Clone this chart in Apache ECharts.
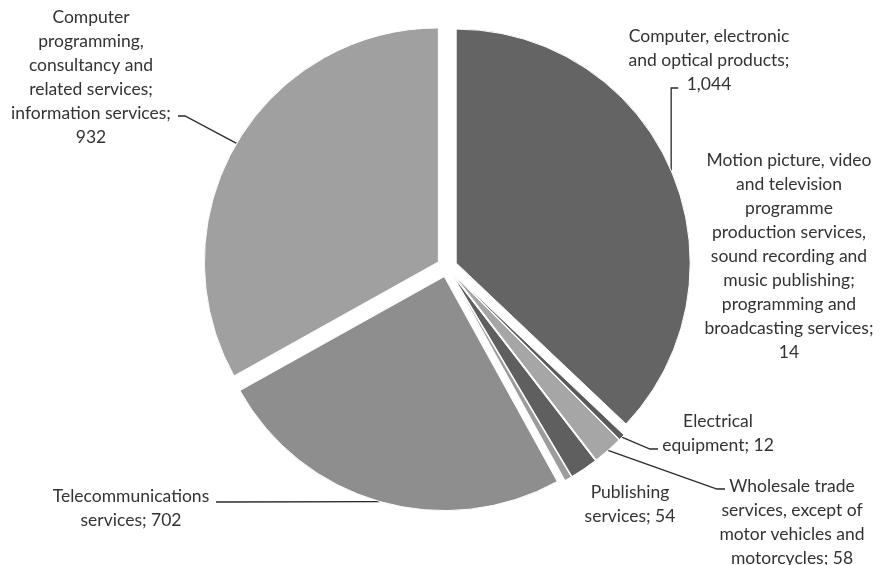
<!DOCTYPE html>
<html>
<head>
<meta charset="utf-8">
<script src="https://cdn.jsdelivr.net/npm/echarts@6/dist/echarts.min.js"></script>
<style>
  html, body { margin: 0; padding: 0; background: #fff; }
  #chart { width: 886px; height: 565px; }
</style>
</head>
<body>
<div id="chart"></div>
<script>
// Categories, written as the lines of their wrapped labels (clockwise from 12 o'clock)
const categoryLines = [
  ['Computer, electronic', 'and optical products'],
  ['Electrical', 'equipment'],
  ['Wholesale trade', 'services, except of', 'motor vehicles and', 'motorcycles'],
  ['Publishing', 'services'],
  ['Motion picture, video', 'and television', 'programme', 'production services,', 'sound recording and', 'music publishing;', 'programming and', 'broadcasting services'],
  ['Telecommunications', 'services'],
  ['Computer', 'programming,', 'consultancy and', 'related services;', 'information services']
];
const values = [1044, 12, 58, 54, 14, 702, 932];
// true when the value sits on its own line below the name
const valueOnOwnLine = [true, false, false, false, true, false, true];

const sliceColors = ['#646464', '#5a5a5a', '#a6a6a6', '#5f5f5f', '#9c9c9c', '#8e8e8e', '#a0a0a0'];

// Pie geometry
const CX = 447, CY = 267, R = 234, EXPLODE = 10;
const FONT = '17.5px Lato';
const LINE_H = 24;

// Label block centres and leader-line elbows / ends
const labelPlacement = [
  { x: 709, y: 60,  elbow: 'vertical', endY: 88, tick: 7 },
  { x: 718, y: 433, elbow: [650, 449], end: [658, 449] },
  { x: 792, y: 522, elbow: [717, 489], end: [725, 489] },
  { x: 630, y: 504 },
  { x: 789, y: 256 },
  { x: 131, y: 508, elbow: [222, 502], end: [216, 502] },
  { x: 91,  y: 77,  elbow: [185, 116], end: [178, 116] }
];

const names = categoryLines.map(l => l.join(' '));
const total = values.reduce((a, b) => a + b, 0);

function fmt(v) { return v.toLocaleString('en-US'); }

function labelText(i) {
  return categoryLines[i].join('\n') + ';' + (valueOnOwnLine[i] ? '\n' : ' ') + fmt(values[i]);
}

// Outer-edge point at the middle angle of slice i, including the explode offset
function edgePoint(i) {
  let before = 0;
  for (let k = 0; k < i; k++) before += values[k];
  const mid = (before + values[i] / 2) / total * 2 * Math.PI;
  const dx = Math.sin(mid), dy = -Math.cos(mid);
  return [CX + (R + EXPLODE) * dx, CY + (R + EXPLODE) * dy];
}

const data = names.map((n, i) => ({
  name: n,
  value: values[i],
  selected: true,
  itemStyle: { color: sliceColors[i] }
}));

// Labels and leader lines
const graphics = [];
values.forEach((v, i) => {
  const pl = labelPlacement[i];
  graphics.push({
    type: 'text',
    x: pl.x,
    y: pl.y,
    silent: true,
    style: {
      text: labelText(i),
      font: FONT,
      lineHeight: LINE_H,
      fill: '#333333',
      align: 'center',
      verticalAlign: 'middle'
    }
  });
  if (pl.elbow) {
    const p0 = edgePoint(i);
    const pts = pl.elbow === 'vertical'
      ? [p0, [p0[0], pl.endY], [p0[0] + pl.tick, pl.endY]]
      : [p0, pl.elbow, pl.end];
    graphics.push({
      type: 'polyline',
      silent: true,
      shape: { points: pts },
      style: { stroke: '#2a2a2a', lineWidth: 1.3, fill: null }
    });
  }
});

const chart = echarts.init(document.getElementById('chart'), null, { renderer: 'canvas' });
chart.setOption({
  animation: false,
  backgroundColor: '#ffffff',
  series: [{
    type: 'pie',
    center: [CX, CY],
    radius: [0, R],
    startAngle: 90,
    clockwise: true,
    selectedMode: 'multiple',
    selectedOffset: EXPLODE,
    silent: true,
    itemStyle: { borderColor: '#ffffff', borderWidth: 1 },
    emphasis: { disabled: true },
    label: { show: false },
    labelLine: { show: false },
    data: data
  }],
  graphic: graphics
});
</script>
</body>
</html>
